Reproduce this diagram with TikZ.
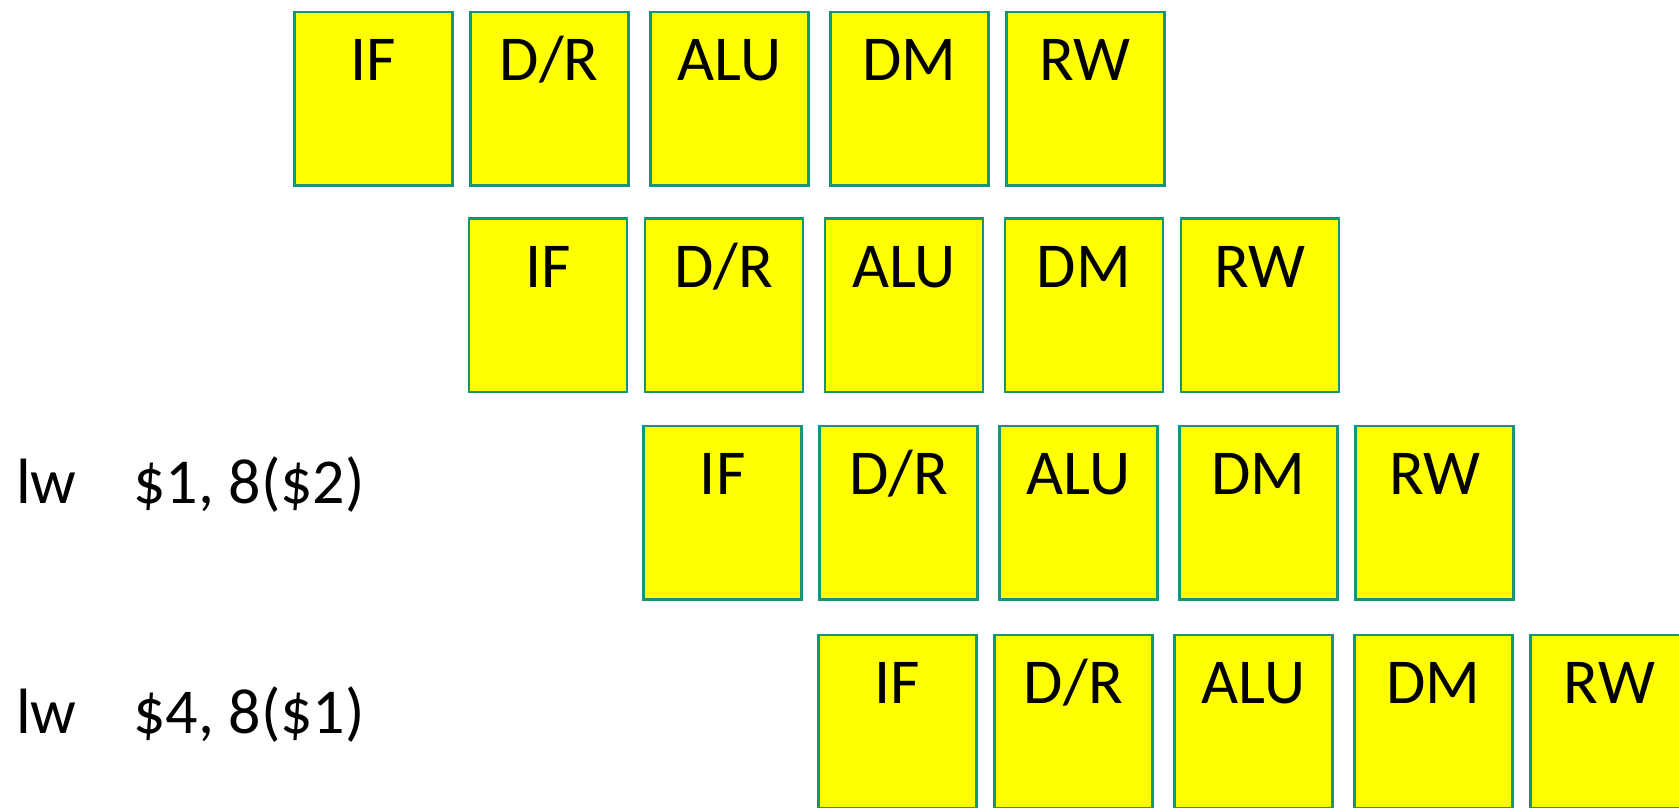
\documentclass[tikz,border=0pt]{standalone}
\usepackage{fontspec}
\setmainfont{Carlito}
\definecolor{edgecol}{RGB}{20,150,115}
\definecolor{stagefill}{RGB}{255,255,0}
\newcommand\stagedr{D/R}
\begin{document}
\begin{tikzpicture}[x=1pt,y=-1pt,
  stage/.style={draw=edgecol, fill=stagefill, line width=2.5pt, minimum width=158pt, minimum height=173.5pt, inner sep=0pt, anchor=north west},
  lbl/.style={font=\fontsize{64}{77}\selectfont, anchor=base, inner sep=0pt},
  instr/.style={font=\fontsize{64}{77}\selectfont, anchor=base west, inner sep=0pt}]
\useasboundingbox (0,0) rectangle (1679,807);
\clip (0,0) rectangle (1679,807);
\foreach \r/\tp in {0/10.8,1/217.2,2/424.8,3/633.8}{
  \foreach \c/\off/\t in {1/0/IF,2/176/\stagedr,3/356/ALU,4/536/DM,5/712/RW}{
    \node[stage] (b\r\c) at ({293+174.7*\r+\off},\tp) {};
    \node[lbl] (t\r\c) at ([yshift=-70pt]b\r\c.north) {\t};
  }
}
\node[instr] (op1) at (16,503) {lw};
\node[instr] (arg1) at (133,503) {\$1, 8(\$2)};
\node[instr] (op2) at (16,733) {lw};
\node[instr] (arg2) at (133,733) {\$4, 8(\$1)};
\end{tikzpicture}
\end{document}
